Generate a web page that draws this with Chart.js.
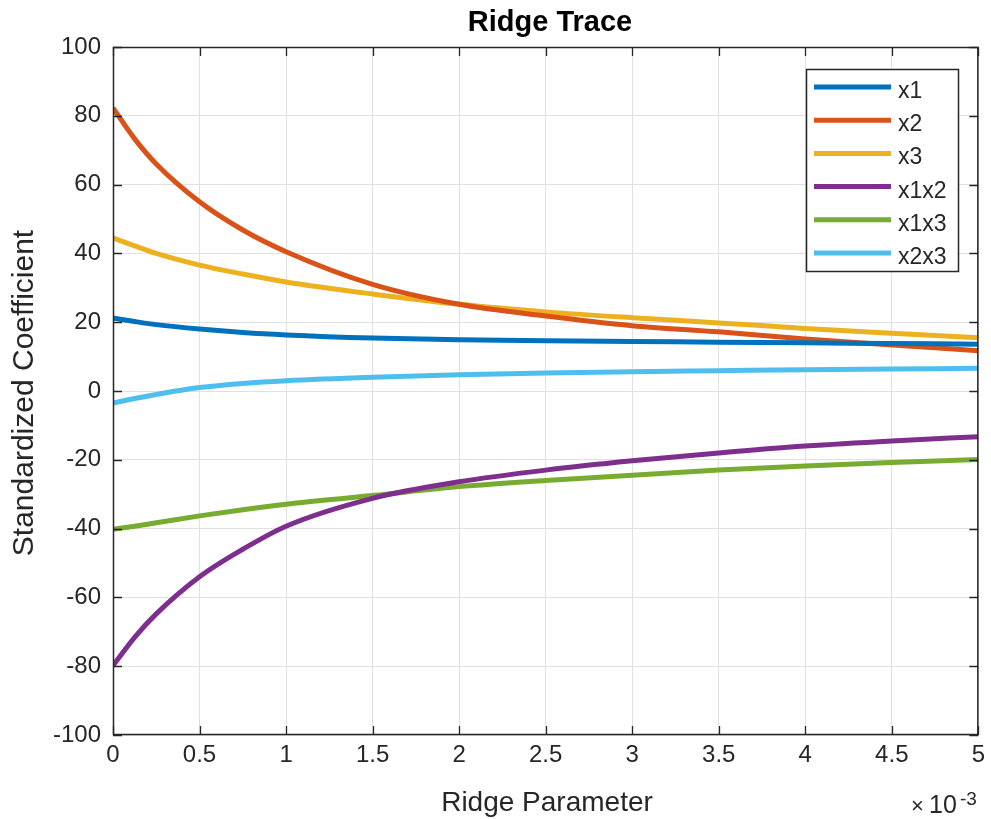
<!DOCTYPE html>
<html>
<head>
<meta charset="utf-8">
<script src="https://cdn.jsdelivr.net/npm/chart.js@4.4.1/dist/chart.umd.min.js"></script>
<style>html,body{margin:0;padding:0;background:#fff}</style>
</head>
<body>
<canvas id="ridge" width="991" height="819"></canvas>
<script>
// ridge parameter, in units of 1e-3
const ridgeK = [0, 0.125, 0.25, 0.5, 0.75, 1, 1.5, 2, 2.5, 3, 3.5, 4, 4.5, 5];

const coefX1   = [21.2, 20.2, 19.3, 18.0, 17.0, 16.3, 15.4, 14.9, 14.6, 14.4, 14.2, 14.0, 13.8, 13.6];
const coefX2   = [82.3, 73.3, 66.0, 55.0, 46.8, 40.5, 31.0, 25.2, 21.8, 19.0, 17.2, 15.1, 13.4, 11.7];
const coefX3   = [44.5, 42.2, 40.0, 36.6, 34.0, 31.7, 28.2, 25.2, 23.0, 21.3, 19.8, 18.2, 16.8, 15.5];
const coefX1X2 = [-79.8, -71.6, -64.8, -54.0, -46.0, -39.3, -31.2, -26.4, -23.0, -20.3, -18.0, -16.0, -14.5, -13.3];
const coefX1X3 = [-40.2, -39.3, -38.3, -36.3, -34.5, -32.9, -30.4, -27.8, -26.0, -24.5, -23.0, -21.8, -20.8, -19.9];
const coefX2X3 = [-3.5, -2.2, -1.0, 1.0, 2.2, 3.0, 4.0, 4.7, 5.2, 5.6, 5.9, 6.2, 6.4, 6.6];

const seriesNames  = ["x1", "x2", "x3", "x1x2", "x1x3", "x2x3"];
const seriesValues = [coefX1, coefX2, coefX3, coefX1X2, coefX1X3, coefX2X3];
const seriesColors = ["#0072BD", "#D95319", "#EDB120", "#7E2F8E", "#77AC30", "#4DBEEE"];

const xTicks = [0, 0.5, 1, 1.5, 2, 2.5, 3, 3.5, 4, 4.5, 5];
const yTicks = [-100, -80, -60, -40, -20, 0, 20, 40, 60, 80, 100];

const FONT = "'Liberation Sans', Arial, Helvetica, sans-serif";
const AXIS_COLOR = "#262626";
Chart.defaults.font.family = FONT;

// MATLAB style box, inner ticks, title, labels, legend
const matlabFrame = {
  id: "matlabFrame",
  afterDraw(chart) {
    const ctx = chart.ctx;
    const a = chart.chartArea;
    const sx = chart.scales.x, sy = chart.scales.y;
    ctx.save();

    ctx.strokeStyle = AXIS_COLOR;
    ctx.lineWidth = 1.3;
    ctx.beginPath();
    xTicks.forEach(v => {
      const px = Math.round(sx.getPixelForValue(v)) + 0.5;
      ctx.moveTo(px, a.bottom); ctx.lineTo(px, a.bottom - 9);
      ctx.moveTo(px, a.top); ctx.lineTo(px, a.top + 9);
    });
    yTicks.forEach(v => {
      const py = Math.round(sy.getPixelForValue(v)) + 0.5;
      ctx.moveTo(a.left, py); ctx.lineTo(a.left + 9, py);
      ctx.moveTo(a.right, py); ctx.lineTo(a.right - 9, py);
    });
    ctx.stroke();
    ctx.lineWidth = 1.5;
    ctx.strokeRect(a.left + 0.5, a.top + 0.5, a.right - a.left - 1, a.bottom - a.top - 1);

    // title
    ctx.fillStyle = "#000";
    ctx.font = "bold 29px " + FONT;
    ctx.textAlign = "center";
    ctx.textBaseline = "alphabetic";
    ctx.fillText("Ridge Trace", 550, 31);

    // axis labels
    ctx.fillStyle = AXIS_COLOR;
    ctx.font = "28px " + FONT;
    ctx.fillText("Ridge Parameter", 547, 811);
    ctx.save();
    ctx.translate(33, 393);
    ctx.rotate(-Math.PI / 2);
    ctx.font = "30px " + FONT;
    ctx.fillText("Standardized Coefficient", 0, 0);
    ctx.restore();

    // exponent
    ctx.textAlign = "left";
    ctx.font = "22px " + FONT;
    ctx.fillText("\u00d7", 911, 813);
    ctx.font = "25px " + FONT;
    ctx.fillText("10", 929, 813);
    ctx.font = "19px " + FONT;
    ctx.fillText("-3", 960, 805);

    // legend
    const lx = 806, ly = 69, lw = 152, lh = 202;
    ctx.fillStyle = "#fff";
    ctx.fillRect(lx, ly, lw, lh);
    ctx.strokeStyle = AXIS_COLOR;
    ctx.lineWidth = 1.5;
    ctx.strokeRect(lx + 0.5, ly + 0.5, lw, lh);
    ctx.font = "23px " + FONT;
    seriesNames.forEach((name, i) => {
      const ry = 87 + i * 33.2;
      ctx.strokeStyle = seriesColors[i];
      ctx.lineWidth = 5;
      ctx.beginPath();
      ctx.moveTo(814, ry); ctx.lineTo(891, ry);
      ctx.stroke();
      ctx.fillStyle = AXIS_COLOR;
      ctx.fillText(name, 898, ry + 11);
    });
    ctx.restore();
  }
};

new Chart(document.getElementById("ridge"), {
  type: "line",
  data: {
    datasets: seriesNames.map((name, i) => ({
      label: name,
      data: ridgeK.map((k, j) => ({ x: k, y: seriesValues[i][j] })),
      borderColor: seriesColors[i],
      borderWidth: 5,
      pointRadius: 0,
      cubicInterpolationMode: "monotone",
      fill: false
    }))
  },
  options: {
    responsive: false,
    devicePixelRatio: 1,
    animation: false,
    layout: { padding: { left: 0, top: 47, right: 12, bottom: 0 } },
    plugins: { legend: { display: false }, title: { display: false }, tooltip: { enabled: false } },
    scales: {
      x: {
        type: "linear",
        min: 0, max: 5,
        afterBuildTicks: s => { s.ticks = xTicks.map(v => ({ value: v })); },
        afterFit: s => { s.height = 84; },
        grid: { color: "#e0e0e0", drawTicks: false },
        border: { display: false },
        ticks: { color: AXIS_COLOR, font: { size: 24 }, padding: 6, maxRotation: 0, callback: v => String(v) }
      },
      y: {
        type: "linear",
        min: -100, max: 100,
        afterBuildTicks: s => { s.ticks = yTicks.map(v => ({ value: v })); },
        afterFit: s => { s.width = 113; },
        grid: { color: "#e0e0e0", drawTicks: false },
        border: { display: false },
        ticks: { color: AXIS_COLOR, font: { size: 24 }, padding: 12, callback: v => String(v) }
      }
    }
  },
  plugins: [matlabFrame]
});
</script>
</body>
</html>
